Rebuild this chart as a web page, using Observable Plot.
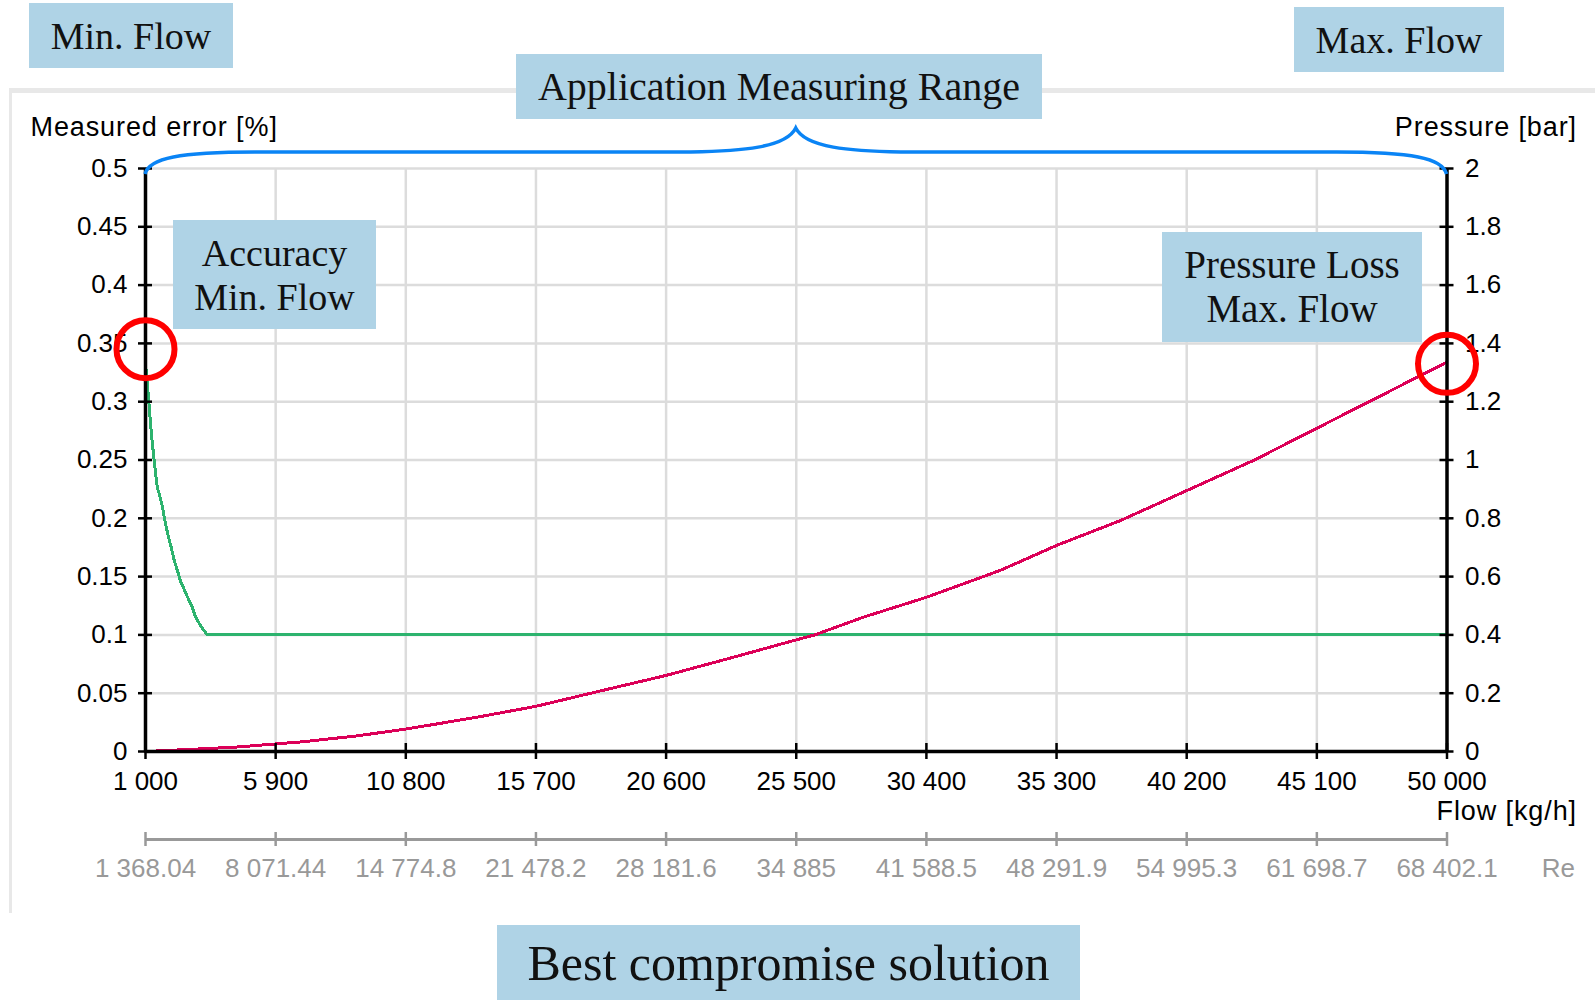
<!DOCTYPE html>
<html><head><meta charset="utf-8">
<script src="https://cdn.jsdelivr.net/npm/d3@7"></script>
<script src="https://cdn.jsdelivr.net/npm/@observablehq/plot@0.6"></script>
<style>
html,body{margin:0;padding:0;background:#fff;overflow:hidden;}
#page{position:relative;width:1595px;height:1000px;overflow:hidden;}
#frame{position:absolute;left:9px;top:88px;width:1586px;height:825px;border-top:5px solid #e8e8e8;border-left:3px solid #e8e8e8;box-sizing:border-box;}
.box{position:absolute;background:#afd3e6;color:#111;text-align:center;font-family:"Liberation Serif","Times New Roman",serif;display:flex;flex-direction:column;justify-content:center;}
.box div{white-space:nowrap;}
.layer{position:absolute;left:0;top:0;}
</style></head>
<body><div id="page"><div id="frame"></div></div>
<script>
// ---- data ----
const xTicks = [1000, 5900, 10800, 15700, 20600, 25500, 30400, 35300, 40200, 45100, 50000];
const xTickLabels = ["1 000","5 900","10 800","15 700","20 600","25 500","30 400","35 300","40 200","45 100","50 000"];
const reTickLabels = ["1 368.04","8 071.44","14 774.8","21 478.2","28 181.6","34 885","41 588.5","48 291.9","54 995.3","61 698.7","68 402.1"];
const errorTicks = [0, 0.05, 0.1, 0.15, 0.2, 0.25, 0.3, 0.35, 0.4, 0.45, 0.5];
const errorTickLabels = ["0","0.05","0.1","0.15","0.2","0.25","0.3","0.35","0.4","0.45","0.5"];
const pressureTicks = [0, 0.2, 0.4, 0.6, 0.8, 1, 1.2, 1.4, 1.6, 1.8, 2];
const pressureTickLabels = ["0","0.2","0.4","0.6","0.8","1","1.2","1.4","1.6","1.8","2"];

// Measured error [%] vs flow
const accuracyFlow  = [1000, 1000, 1125, 1226, 1339, 1440, 1565, 1653, 1753, 1878, 1979, 2092, 2217, 2318, 2420, 2533, 2631, 2759, 2857, 2970, 3072, 3196, 3324, 50000];
const accuracyError = [0.35, 0.333, 0.30, 0.271, 0.247, 0.227, 0.217, 0.208, 0.195, 0.183, 0.174, 0.163, 0.154, 0.146, 0.141, 0.135, 0.130, 0.124, 0.117, 0.112, 0.108, 0.104, 0.1, 0.1];

// Pressure loss [bar] vs flow
const pressureFlow = [1000, 2400, 4400, 5900, 7000, 8000, 9000, 10800, 12000, 13500, 15700, 18000, 20600, 23000, 25500, 26200, 28000, 30400, 33200, 35300, 37700, 40200, 42750, 45100, 47650, 50000];
const pressureBar  = [0, 0.006, 0.015, 0.026, 0.034, 0.044, 0.054, 0.077, 0.095, 0.118, 0.155, 0.205, 0.261, 0.32, 0.383, 0.4, 0.46, 0.529, 0.622, 0.707, 0.792, 0.895, 1.0, 1.109, 1.227, 1.336];

// highlighted points
const highlightFlow = [1000, 50000];
const highlightValue = [0.345, 1.33];
const highlightAxis = ["error", "pressure"];

const braceRange = [1000, 50000];

// ---- build ----
const barPerPercent = 4; // right axis 0..2 bar vs left 0..0.5 %
const accuracy = accuracyFlow.map((f, i) => ({flow: f, v: accuracyError[i]}));
const pressure = pressureFlow.map((f, i) => ({flow: f, v: pressureBar[i] / barPerPercent}));
const highlights = highlightFlow.map((f, i) => ({flow: f, v: highlightAxis[i] === "pressure" ? highlightValue[i] / barPerPercent : highlightValue[i]}));

const W = 1595, H = 1000;
const common = {
  width: W, height: H,
  marginTop: 168, marginBottom: 249, marginLeft: 145, marginRight: 148.5,
  x: {domain: [1000, 50000], axis: null},
  y: {domain: [0, 0.5], axis: null},
  style: {fontFamily: "'Liberation Sans', Arial, sans-serif", fontSize: "26px", background: "transparent", overflow: "visible"}
};

const gray = "#999999";
const plot = Plot.plot({
  ...common,
  marks: [
    Plot.ruleX(xTicks.slice(1, -1), {stroke: "#dcdcdc", strokeWidth: 2.5}),
    Plot.ruleY(errorTicks.slice(1), {stroke: "#dcdcdc", strokeWidth: 2.5}),
    Plot.line(accuracy, {x: "flow", y: "v", stroke: "#2db36e", strokeWidth: 3, shapeRendering: "crispEdges"}),
    Plot.line(pressure, {x: "flow", y: "v", stroke: "#dc0058", strokeWidth: 3, shapeRendering: "crispEdges"}),
    // axis lines
    Plot.ruleX([1000, 50000], {stroke: "black", strokeWidth: 3.5}),
    Plot.ruleY([0], {x1: 1000, x2: 50000, stroke: "black", strokeWidth: 3.5}),
    // crossing ticks
    Plot.ruleY(errorTicks, {y: d => d, x1: 1000, x2: 1000, insetLeft: -7, insetRight: -7, stroke: "black", strokeWidth: 2.5}),
    Plot.ruleY(errorTicks, {y: d => d, x1: 50000, x2: 50000, insetLeft: -7, insetRight: -7, stroke: "black", strokeWidth: 2.5}),
    Plot.ruleX(xTicks, {x: d => d, y1: 0, y2: 0, insetTop: -8, insetBottom: -8, stroke: "black", strokeWidth: 2.5}),
    // tick labels
    Plot.text(errorTicks, {x: 1000, y: d => d, text: (d, i) => errorTickLabels[i], dx: -18, textAnchor: "end"}),
    Plot.text(pressureTicks, {x: 50000, y: d => d / barPerPercent, text: (d, i) => pressureTickLabels[i], dx: 18, textAnchor: "start"}),
    Plot.text(xTicks, {x: d => d, y: 0, text: (d, i) => xTickLabels[i], dy: 30}),
    // Reynolds secondary axis
    Plot.ruleY([0], {x1: 1000, x2: 50000, dy: 88, stroke: gray, strokeWidth: 3}),
    Plot.ruleX(xTicks, {x: d => d, y1: 0, y2: 0, insetTop: -7, insetBottom: -7, dy: 88, stroke: gray, strokeWidth: 2.5}),
    Plot.text(xTicks, {x: d => d, y: 0, text: (d, i) => reTickLabels[i], dy: 117, fill: gray}),
    // axis titles
    Plot.text(["Measured error [%]"], {frameAnchor: "top-left", lineAnchor: "middle", dx: -115, dy: -41, textAnchor: "start", fontSize: 27}),
    Plot.text(["Pressure [bar]"], {frameAnchor: "top-right", lineAnchor: "middle", dx: 130, dy: -41, textAnchor: "end", fontSize: 27}),
    Plot.text(["Flow [kg/h]"], {frameAnchor: "bottom-right", lineAnchor: "middle", dx: 130, dy: 60, textAnchor: "end", fontSize: 27}),
    Plot.text(["Re"], {frameAnchor: "bottom-right", lineAnchor: "middle", dx: 128, dy: 117, textAnchor: "end", fill: gray})
  ]
});
plot.classList.add("layer");
plot.style.position = "absolute"; plot.style.left = "0px"; plot.style.top = "0px";
d3.select(plot).selectAll("text").filter(function () {
  return ["Measured error [%]", "Pressure [bar]", "Flow [kg/h]"].includes(this.textContent);
}).attr("letter-spacing", "0.9px");

// brace above the measuring range
{
  const sx = plot.scale("x");
  const X = v => sx.apply(v);
  const xL = X(braceRange[0]), xR = X(braceRange[1]), xM = X((braceRange[0] + braceRange[1]) / 2);
  const yT = common.marginTop;
  const h = yT - 16, top = yT - 40;
  const dPath = `M${xL},${yT + 6} C${xL + 4},${yT - 10} ${xL + 35},${h} ${xL + 110},${h}` +
    ` L${xM - 105},${h} C${xM - 55},${h - 1} ${xM - 10},${h - 4} ${xM},${top}` +
    ` C${xM + 10},${h - 4} ${xM + 55},${h - 1} ${xM + 105},${h}` +
    ` L${xR - 110},${h} C${xR - 35},${h} ${xR - 4},${yT - 10} ${xR},${yT + 6}`;
  d3.select(plot).append("path").attr("d", dPath).attr("fill", "none")
    .attr("stroke", "#0a84f5").attr("stroke-width", 3.5);
}

const page = document.getElementById("page");
page.appendChild(plot);

// annotation boxes
const boxes = [
  {lines: ["Min. Flow"], left: 29, top: 3, w: 204, h: 65, fs: 38, lh: 44},
  {lines: ["Max. Flow"], left: 1294, top: 7, w: 210, h: 65, fs: 38, lh: 44},
  {lines: ["Application Measuring Range"], left: 516, top: 54, w: 526, h: 65, fs: 40, lh: 46},
  {lines: ["Accuracy", "Min. Flow"], left: 173, top: 220, w: 203, h: 109, fs: 38, lh: 44},
  {lines: ["Pressure Loss", "Max. Flow"], left: 1162, top: 232, w: 260, h: 110, fs: 39, lh: 44},
  {lines: ["Best compromise solution"], left: 497, top: 925, w: 583, h: 75, fs: 50, lh: 56}
];
for (const b of boxes) {
  const el = document.createElement("div");
  el.className = "box";
  Object.assign(el.style, {left: b.left + "px", top: b.top + "px", width: b.w + "px", height: b.h + "px", fontSize: b.fs + "px", lineHeight: b.lh + "px"});
  for (const t of b.lines) { const d = document.createElement("div"); d.textContent = t; el.appendChild(d); }
  page.appendChild(el);
}

// red highlight circles on top
const overlay = Plot.plot({
  ...common,
  marks: [
    Plot.dot(highlights, {x: "flow", y: "v", r: 29, stroke: "#ff0000", strokeWidth: 6, fill: "none"})
  ]
});
overlay.style.position = "absolute"; overlay.style.left = "0px"; overlay.style.top = "0px";
page.appendChild(overlay);
</script>
</body></html>
